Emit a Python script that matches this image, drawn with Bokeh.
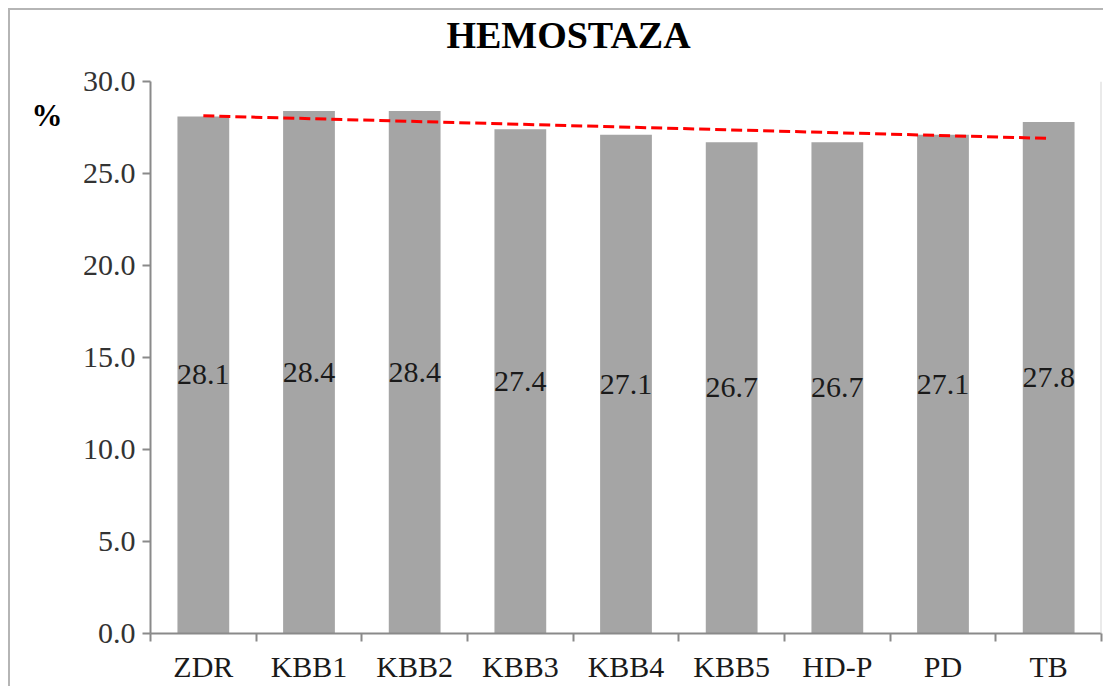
import numpy as np
from bokeh.plotting import figure
from bokeh.models import Range1d, FixedTicker, NumeralTickFormatter, Span, ColumnDataSource, LinearAxis
from bokeh.core.properties import value
from bokeh.embed import file_html
from bokeh.resources import INLINE

# ---- data ----
title_text = "HEMOSTAZA"
y_unit = "%"
categories = ["ZDR", "KBB1", "KBB2", "KBB3", "KBB4", "KBB5", "HD-P", "PD", "TB"]
values = [28.1, 28.4, 28.4, 27.4, 27.1, 26.7, 26.7, 27.1, 27.8]
y_ticks = [0, 5, 10, 15, 20, 25, 30]

FONT = "Liberation Serif"
TITLE_X = 3.456     # title centre, in x data units
UNIT_Y = 28.15      # vertical position of the "%" unit label, in y data units

n = len(categories)
xs = list(range(n))
src = ColumnDataSource(dict(
    x=xs,
    top=values,
    mid=[v / 2 for v in values],
    lbl=[f"{v:.1f}" for v in values],
))

p = figure(width=1095, height=678, output_backend="svg", toolbar_location=None,
           x_range=Range1d(-0.5, n - 0.5), y_range=Range1d(0, 30),
           min_border_left=140, min_border_right=4, min_border_top=67, min_border_bottom=55)
p.styles = {"border-top": "2px solid #b5b5b5", "border-left": "2px solid #b5b5b5",
            "margin-top": "8px", "margin-left": "8px"}
p.outline_line_color = None
p.xgrid.grid_line_color = None
p.ygrid.grid_line_color = None
p.background_fill_color = "white"
p.border_fill_color = "white"

# bars
p.vbar(x="x", top="top", width=0.49, source=src, fill_color="#a5a5a5", line_color=None)

# right edge of plot area
p.add_layout(Span(location=n - 0.5, dimension="height", line_color="#d6d6d6", line_width=2))

# linear trend line (least squares fit of the values)
coef = np.polyfit(np.arange(1, n + 1), values, 1)
trend_x = [0, n - 1]
trend_y = [coef[0] * 1 + coef[1], coef[0] * n + coef[1]]
p.line(trend_x, trend_y, line_color="#ff0000", line_width=3, line_dash="11 5")

# data labels
p.text(x="x", y="mid", text="lbl", source=src, text_align="center", text_baseline="middle",
       text_font=value(FONT), text_font_size="30px", text_color="#1a1a1a")

# y axis
yax = p.yaxis[0]
yax.ticker = FixedTicker(ticks=y_ticks)
yax.formatter = NumeralTickFormatter(format="0.0")
yax.axis_line_color = "#8a8a8a"
yax.axis_line_width = 2
yax.major_tick_line_color = "#8a8a8a"
yax.major_tick_line_width = 2
yax.major_tick_out = 8
yax.major_tick_in = 0
yax.minor_tick_line_color = None
yax.major_label_standoff = 7
yax.major_label_text_font = FONT
yax.major_label_text_font_size = "30px"
yax.major_label_text_color = "#333333"

# x axis
xax = p.xaxis[0]
xax.ticker = FixedTicker(ticks=xs, minor_ticks=[i - 0.5 for i in range(n + 1)])
xax.major_label_overrides = {i: c for i, c in zip(xs, categories)}
xax.axis_line_color = "#8a8a8a"
xax.axis_line_width = 2
xax.major_tick_line_color = None
xax.major_tick_out = 0
xax.major_tick_in = 0
xax.minor_tick_line_color = "#8a8a8a"
xax.minor_tick_line_width = 2
xax.minor_tick_out = 8
xax.minor_tick_in = 0
xax.major_label_standoff = 8
xax.major_label_text_font = FONT
xax.major_label_text_font_size = "30px"
xax.major_label_text_color = "#1a1a1a"

# title as a label-only axis above the frame
tax = LinearAxis(ticker=FixedTicker(ticks=[TITLE_X], minor_ticks=[]),
                 major_label_overrides={TITLE_X: title_text})
tax.axis_line_color = None
tax.major_tick_line_color = None
tax.minor_tick_line_color = None
tax.major_label_standoff = 20
tax.major_label_text_font = FONT
tax.major_label_text_font_size = "38px"
tax.major_label_text_font_style = "bold"
tax.major_label_text_color = "#000000"
p.add_layout(tax, "above")

# unit label as a label-only axis left of the y axis
uax = LinearAxis(ticker=FixedTicker(ticks=[UNIT_Y], minor_ticks=[]),
                 major_label_overrides={UNIT_Y: y_unit})
uax.axis_line_color = None
uax.major_tick_line_color = None
uax.minor_tick_line_color = None
uax.major_label_standoff = 11
uax.major_label_text_font = FONT
uax.major_label_text_font_size = "31px"
uax.major_label_text_font_style = "bold"
uax.major_label_text_color = "#000000"
p.add_layout(uax, "left")

open("out.html", "w").write(file_html(p, INLINE))
